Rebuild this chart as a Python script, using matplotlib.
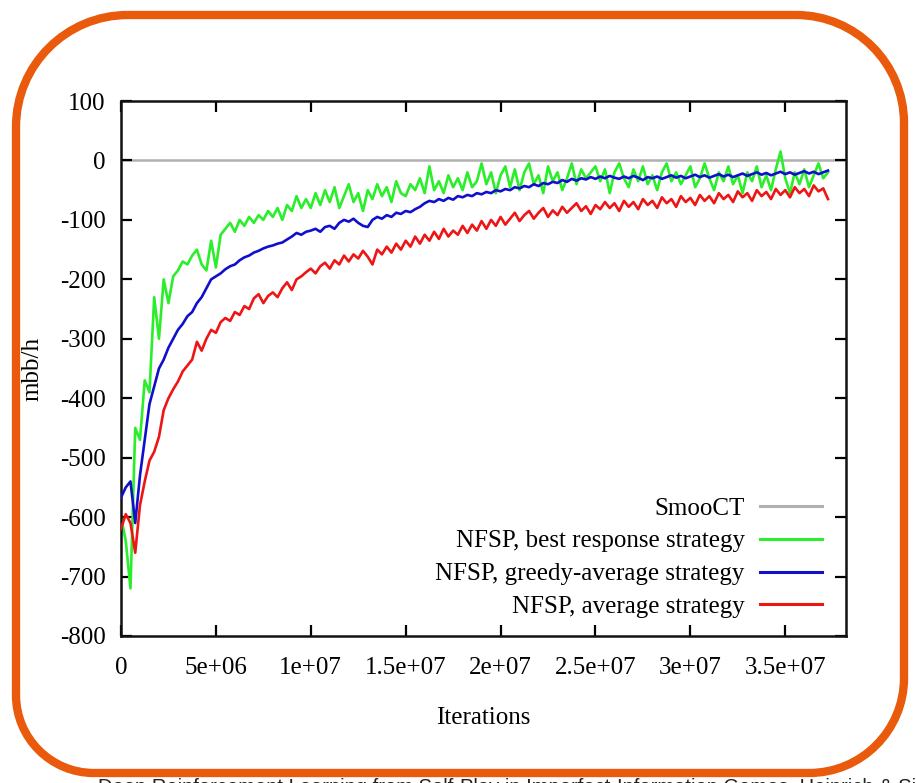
import numpy as np
import matplotlib
matplotlib.use("Agg")
import matplotlib.pyplot as plt
from matplotlib.path import Path
from matplotlib.patches import PathPatch

# ---------------- data (mbb/h vs iterations, sampled every 0.25e6) ----------------
STEP = 0.25e6

best_response = [
    -600, -640, -720, -450, -470, -370, -390, -230, -300, -200,
    -240, -195, -185, -170, -175, -160, -150, -175, -185, -135,
    -180, -125, -115, -105, -120, -100, -110, -95, -105, -92,
    -100, -85, -95, -80, -100, -75, -85, -60, -80, -65,
    -80, -55, -75, -50, -70, -45, -80, -60, -40, -70,
    -55, -85, -50, -65, -40, -60, -45, -70, -35, -55,
    -60, -40, -50, -30, -55, -10, -50, -35, -55, -25,
    -45, -30, -50, -20, -45, -35, -5, -40, -20, -55,
    -25, -10, -45, -15, -50, -20, -5, -40, -25, -55,
    -10, -35, -20, -50, -30, -5, -40, -15, -30, -20,
    -10, -35, -15, -55, -20, -5, -30, -45, -15, -35,
    -10, -40, -25, -50, -20, -5, -35, -20, -40, -25,
    -10, -45, -30, -5, -30, -50, -20, -35, -10, -40,
    -25, -55, -20, -35, -10, -45, -25, -50, -15, 15,
    -30, -55, -20, -40, -15, -45, -25, -5, -30, -20,
]

greedy_average = [
    -567, -550, -540, -610, -530, -470, -410, -380, -350, -335,
    -315, -300, -285, -275, -262, -255, -240, -230, -215, -200,
    -195, -190, -183, -178, -175, -168, -163, -160, -155, -152,
    -148, -145, -143, -140, -138, -133, -128, -122, -125, -120,
    -118, -115, -120, -112, -110, -115, -105, -100, -103, -98,
    -105, -110, -112, -100, -95, -98, -92, -95, -88, -90,
    -85, -87, -82, -78, -72, -68, -70, -65, -68, -63,
    -66, -60, -62, -58, -60, -55, -57, -53, -55, -50,
    -52, -48, -50, -45, -47, -43, -45, -40, -43, -38,
    -40, -36, -38, -33, -36, -31, -34, -30, -32, -28,
    -31, -27, -30, -26, -29, -31, -27, -30, -26, -29,
    -33, -28, -30, -27, -31, -28, -25, -29, -26, -30,
    -27, -24, -28, -25, -29, -26, -23, -27, -24, -28,
    -25, -22, -26, -23, -20, -24, -21, -25, -22, -19,
    -23, -20, -24, -21, -18, -22, -19, -23, -20, -17,
]

average = [
    -620, -595, -610, -660, -580, -540, -505, -490, -465, -420,
    -400, -385, -372, -355, -345, -335, -305, -320, -300, -285,
    -290, -272, -265, -270, -255, -260, -245, -250, -232, -225,
    -240, -228, -222, -230, -215, -205, -218, -200, -195, -188,
    -182, -190, -178, -172, -182, -168, -175, -160, -170, -158,
    -165, -152, -162, -175, -150, -158, -145, -155, -140, -150,
    -135, -145, -128, -140, -125, -135, -120, -132, -115, -128,
    -118, -125, -110, -122, -108, -118, -102, -115, -100, -110,
    -95, -108, -98, -88, -102, -92, -85, -98, -88, -80,
    -95, -84, -92, -78, -88, -80, -72, -85, -77, -90,
    -75, -82, -70, -80, -72, -85, -68, -78, -70, -82,
    -65, -75, -68, -80, -62, -72, -65, -78, -60, -70,
    -63, -75, -58, -68, -60, -72, -55, -65, -58, -70,
    -52, -62, -55, -68, -50, -60, -53, -65, -48, -58,
    -50, -62, -45, -55, -48, -60, -42, -52, -47, -65,
]

smooct_value = 0
series_labels = ["SmooCT", "NFSP, best response strategy",
                 "NFSP, greedy-average strategy", "NFSP, average strategy"]
xticks = [0, 5e6, 1e7, 1.5e7, 2e7, 2.5e7, 3e7, 3.5e7]
xtick_labels = ["0", "5e+06", "1e+07", "1.5e+07", "2e+07", "2.5e+07", "3e+07", "3.5e+07"]
yticks = [100, 0, -100, -200, -300, -400, -500, -600, -700, -800]

# ---------------- figure ----------------
W, H = 916, 783
fig = plt.figure(figsize=(W / 100, H / 100), dpi=100)
plt.rcParams['font.family'] = ['Liberation Serif', 'DejaVu Serif']

L, R, T, B = 121, 846, 101, 636
ax = fig.add_axes([L / W, 1 - B / H, (R - L) / W, (B - T) / H])

def xs(vals):
    return np.arange(len(vals)) * STEP

ax.axhline(smooct_value, color="#b0b0b0", lw=1.8, label=series_labels[0], zorder=1)
ax.plot(xs(best_response), best_response, color="#2aee2a", lw=1.9, label=series_labels[1], zorder=2)
ax.plot(xs(greedy_average), greedy_average, color="#1010cc", lw=1.9, label=series_labels[2], zorder=3)
ax.plot(xs(average), average, color="#ee1515", lw=1.9, label=series_labels[3], zorder=4)

ax.set_xlim(0, 3.82e7)
ax.set_ylim(-800, 100)
ax.set_xticks(xticks)
ax.set_xticklabels(xtick_labels)
ax.set_yticks(yticks)
ax.set_yticklabels([str(v) for v in yticks])
ax.tick_params(direction="in", length=8, width=1.6, top=True, right=True,
               labelsize=18, colors="black")
ax.tick_params(axis="x", pad=15)
ax.tick_params(axis="y", pad=11)
for s in ax.spines.values():
    s.set_linewidth(1.8)
    s.set_color("#111111")

ax.set_xlabel("Iterations", fontsize=18, labelpad=20)
ax.set_ylabel("mbb/h", fontsize=18, labelpad=12)

leg = ax.legend(loc="lower right", bbox_to_anchor=(1 - 24 / (R - L), 18 / (B - T)),
                frameon=False, markerfirst=False, fontsize=18, handlelength=2.5,
                handletextpad=0.6, labelspacing=0.41, borderaxespad=0, borderpad=0)
for line in leg.get_lines():
    line.set_linewidth(2.2)

# ---------------- orange rounded frame ----------------
ov = fig.add_axes([0, 0, 1, 1], zorder=10)
ov.set_xlim(0, W)
ov.set_ylim(H, 0)
ov.axis("off")
ov.patch.set_alpha(0)

x0, x1, y0, y1 = 16, 904, 15, 773
rtl, rtr, rbr, rbl = 112, 108, 95, 78
k = 0.5523
verts = [
    (x0 + rtl, y0), (x1 - rtr, y0),
    (x1 - rtr + k * rtr, y0), (x1, y0 + rtr - k * rtr), (x1, y0 + rtr),
    (x1, y1 - rbr),
    (x1, y1 - rbr + k * rbr), (x1 - rbr + k * rbr, y1), (x1 - rbr, y1),
    (x0 + rbl, y1),
    (x0 + rbl - k * rbl, y1), (x0, y1 - rbl + k * rbl), (x0, y1 - rbl),
    (x0, y0 + rtl),
    (x0, y0 + rtl - k * rtl), (x0 + rtl - k * rtl, y0), (x0 + rtl, y0),
]
codes = [Path.MOVETO, Path.LINETO,
         Path.CURVE4, Path.CURVE4, Path.CURVE4,
         Path.LINETO,
         Path.CURVE4, Path.CURVE4, Path.CURVE4,
         Path.LINETO,
         Path.CURVE4, Path.CURVE4, Path.CURVE4,
         Path.LINETO,
         Path.CURVE4, Path.CURVE4, Path.CURVE4]
ov.add_patch(PathPatch(Path(verts, codes), facecolor="none",
                       edgecolor="#e95a0c", lw=6.0))

# caption at the bottom, cut off by the image edge as in the reference
fig.text(98 / W, 1 - 793 / H,
         "Deep Reinforcement Learning from Self-Play in Imperfect-Information Games, Heinrich & Silver",
         fontsize=14.5, family=["Liberation Sans", "DejaVu Sans"], ha="left", va="baseline",
         color="#222222")

fig.savefig("out.png", dpi=100)
